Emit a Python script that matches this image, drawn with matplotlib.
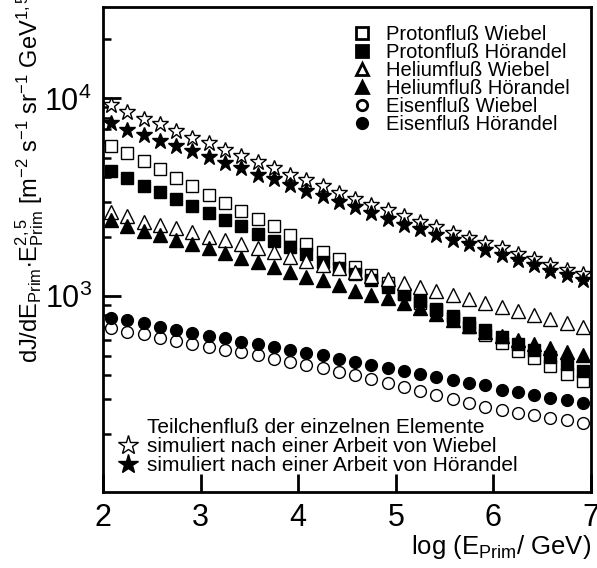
# Teilchenfluss der einzelnen Elemente, Wiebel vs Hoerandel
# x: log(E_Prim/GeV), y: flux * E^2.5 (log scale)

import matplotlib as mpl
mpl.use('Agg')
import matplotlib.pyplot as plt
from matplotlib.lines import Line2D

plt.rcParams['font.family'] = ['Liberation Sans', 'DejaVu Sans']
plt.rcParams['mathtext.fontset'] = 'custom'
plt.rcParams['mathtext.rm'] = 'Liberation Sans'
plt.rcParams['mathtext.it'] = 'Liberation Sans'

loge = [2.083, 2.25, 2.417, 2.583, 2.75, 2.917, 3.083, 3.25, 3.417, 3.583,
        3.75, 3.917, 4.083, 4.25, 4.417, 4.583, 4.75, 4.917, 5.083, 5.25,
        5.417, 5.583, 5.75, 5.917, 6.083, 6.25, 6.417, 6.583, 6.75, 6.917]

proton_w = [5770, 5300, 4800, 4400, 3960, 3590, 3260, 2960, 2700, 2460,
            2250, 2040, 1830, 1680, 1540, 1400, 1280, 1160, 1030, 920,
            850, 770, 700, 634, 577, 526, 484, 441, 402, 370]
proton_h = [4280, 3960, 3620, 3350, 3100, 2860, 2630, 2430, 2250, 2060,
            1900, 1770, 1630, 1490, 1380, 1290, 1210, 1115, 1030, 943,
            859, 791, 729, 672, 619, 574, 532, 490, 452, 416]
helium_w = [2650, 2530, 2380, 2290, 2210, 2100, 2000, 1920, 1830, 1750,
            1670, 1580, 1500, 1440, 1380, 1320, 1270, 1220, 1160, 1110,
            1060, 1010, 965, 921, 880, 839, 801, 764, 729, 698]
helium_h = [2430, 2250, 2140, 2040, 1920, 1830, 1750, 1650, 1550, 1490,
            1410, 1330, 1250, 1200, 1140, 1060, 1010, 977, 921, 869,
            810, 755, 704, 657, 627, 598, 571, 545, 523, 502]
iron_w = [686, 659, 639, 614, 591, 569, 553, 532, 522, 502,
          483, 464, 446, 430, 413, 397, 381, 364, 346, 330,
          314, 302, 287, 276, 266, 256, 249, 241, 235, 227]
iron_h = [776, 755, 727, 698, 672, 647, 629, 610, 586, 569,
          553, 536, 516, 502, 483, 464, 446, 435, 418, 405,
          390, 375, 363, 353, 336, 327, 314, 306, 297, 287]
total_w = [9300, 8500, 7900, 7400, 6800, 6300, 5950, 5500, 5100, 4750,
           4450, 4100, 3850, 3600, 3320, 3100, 2900, 2710, 2530, 2360,
           2230, 2080, 1960, 1850, 1750, 1630, 1540, 1440, 1360, 1290]
total_h = [7500, 6950, 6550, 6100, 5750, 5400, 5050, 4700, 4450, 4100,
           3900, 3630, 3400, 3200, 2990, 2820, 2630, 2460, 2290, 2180,
           2040, 1920, 1830, 1710, 1620, 1520, 1440, 1340, 1280, 1210]

labels = ['Protonfluß Wiebel', 'Protonfluß Hörandel', 'Heliumfluß Wiebel',
          'Heliumfluß Hörandel', 'Eisenfluß Wiebel', 'Eisenfluß Hörandel']

fig = plt.figure(figsize=(5.97, 5.68), dpi=100)
ax = fig.add_axes([103/597, 76/568, 488/597, 485/568])

sty = dict(linestyle='none', color='black', markeredgewidth=1.0)
series = [(proton_w, 's', 'white', 9), (proton_h, 's', 'black', 9),
          (helium_w, '^', 'white', 10), (helium_h, '^', 'black', 10),
          (iron_w, 'o', 'white', 8.5), (iron_h, 'o', 'black', 8.5)]
handles = []
for (vals, m, fc, ms), lab in zip(series, labels):
    ax.plot(loge, vals, marker=m, markerfacecolor=fc, markersize=ms, **sty)
    handles.append(Line2D([], [], marker=m, markerfacecolor=fc,
                          markersize=ms - 1, label=lab, linestyle='none',
                          color='black', markeredgewidth=2.0))

ax.plot(loge, total_w, marker='*', markerfacecolor='white', markersize=12, **sty)
ax.plot(loge, total_h, marker='*', markerfacecolor='black', markersize=12, **sty)

ax.set_yscale('log')
ax.set_xlim(2, 7)
ax.set_ylim(102, 29000)
ax.set_xticks([2, 3, 4, 5, 6, 7])

for s in ax.spines.values():
    s.set_linewidth(2.0)
ax.tick_params(axis='both', which='major', direction='in', length=13,
               width=2.0, labelsize=22, pad=8)
ax.tick_params(axis='y', which='minor', direction='in', length=6, width=1.8)
ax.tick_params(axis='x', which='minor', bottom=False)

leg1 = ax.legend(handles=handles, loc='upper left', bbox_to_anchor=(0.51, 0.962),
                 frameon=False, fontsize=14.5, handlelength=1.0,
                 handletextpad=0.7, labelspacing=-0.05, borderpad=0,
                 borderaxespad=0)
ax.add_artist(leg1)

h2 = [Line2D([], [], linestyle='none', marker=None,
             label='Teilchenfluß der einzelnen Elemente'),
      Line2D([], [], linestyle='none', marker='*', color='black',
             markerfacecolor='white', markersize=15, markeredgewidth=1.0,
             label='simuliert nach einer Arbeit von Wiebel'),
      Line2D([], [], linestyle='none', marker='*', color='black',
             markersize=15, label='simuliert nach einer Arbeit von Hörandel')]
ax.legend(handles=h2, loc='lower left', bbox_to_anchor=(0.03, 0.035),
          frameon=False, fontsize=15, handlelength=1.0, handletextpad=0.4,
          labelspacing=0.0, borderpad=0, borderaxespad=0)

ax.set_xlabel(r'log (E$_{\rm Prim}$/ GeV)', fontsize=18.5, loc='right', labelpad=0)
fig.text(47/597, 1 - 363/568,
         r'dJ/dE$_{\rm Prim}$$\bullet$E$^{2,5}_{\rm Prim}$ [m$^{-2}$ s$^{-1}$ sr$^{-1}$ GeV$^{1,5}$]',
         rotation=90, ha='right', va='bottom', fontsize=17)

pngname = 'out.png'
print("save ", pngname)
plt.savefig(pngname, dpi=100)
